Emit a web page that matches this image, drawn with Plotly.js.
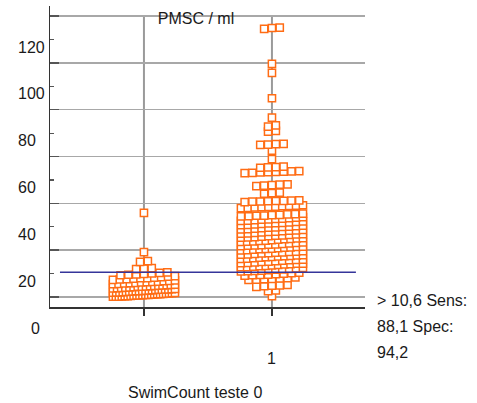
<!DOCTYPE html>
<html>
<head>
<meta charset="utf-8">
<script src="https://cdn.plot.ly/plotly-3.0.1.min.js"></script>
<style>html,body{margin:0;padding:0;background:#fff;}#chart{width:477px;height:403px;}</style>
</head>
<body>
<div id="chart"></div>
<script>
// ---- data ----
const categories = ['0', '1'];
const categoryPos = [0, 1];

const group0 = [
  0.1, 0.2, 0.2, 0.3, 0.4, 0.4, 0.5, 0.6, 0.7, 0.7, 0.8, 0.9, 0.9, 1.0, 1.1, 1.2, 1.2, 1.3, 1.4, 1.5, 1.6, 1.7,
  1.9, 2.0, 2.0, 2.1, 2.2, 2.3, 2.4, 2.5, 2.5, 2.6, 2.7, 2.8, 2.9, 3.0, 3.1, 3.1, 3.2, 3.3, 3.4, 3.5,
  3.7, 3.8, 3.9, 4.0, 4.1, 4.2, 4.4, 4.4, 4.5, 4.6, 4.7, 4.9, 5.0, 5.1, 5.2, 5.3,
  5.5, 5.6, 5.8, 5.9, 6.0, 6.2, 6.3, 6.5, 6.6, 6.8, 6.9, 7.1,
  7.3, 7.5, 7.6, 7.8, 8.0, 8.1, 8.3, 8.5, 8.7, 8.9,
  9.3, 9.5, 9.7, 9.9, 10.1, 10.3, 10.5,
  11.9, 12.1, 12.3,
  15.0, 15.3,
  19.2,
  35.9
];

const group1 = [
  0.4,
  2.5, 2.8,
  4.3, 4.6, 4.8, 5.0, 5.2,
  7.3, 7.4, 7.6, 7.7, 7.9, 8.1, 8.4,
  9.1, 9.3, 9.4, 9.6, 9.8, 10.0, 10.2, 10.4,
  10.9, 11.0, 11.2, 11.3, 11.5, 11.7, 11.8, 12.0, 12.2, 12.4,
  12.7, 12.8, 13.0, 13.2, 13.3, 13.5, 13.7, 13.9, 14.0, 14.2, 14.3,
  14.5, 14.6, 14.8, 15.0, 15.1, 15.3, 15.5, 15.7, 15.8, 16.0,
  16.3, 16.4, 16.6, 16.8, 17.0, 17.1, 17.3, 17.5, 17.6, 17.8, 17.9,
  18.1, 18.2, 18.4, 18.6, 18.7, 18.9, 19.1, 19.3, 19.4, 19.6,
  19.9, 20.0, 20.2, 20.4, 20.6, 20.7, 20.9, 21.1, 21.2, 21.4, 21.5,
  21.7, 21.9, 22.0, 22.2, 22.4, 22.5, 22.7, 22.9, 23.1, 23.3,
  23.5, 23.6, 23.8, 24.0, 24.1, 24.3, 24.5, 24.7, 24.8, 25.0, 25.1,
  25.3, 25.5, 25.6, 25.8, 26.0, 26.2, 26.3, 26.5, 26.7, 26.9,
  27.1, 27.2, 27.4, 27.6, 27.8, 27.9, 28.1, 28.3, 28.5, 28.7,
  28.9, 29.0, 29.2, 29.4, 29.6, 29.7, 29.9, 30.1, 30.3, 30.5,
  30.7, 30.8, 31.0, 31.2, 31.4, 31.5, 31.7, 31.9, 32.1, 32.3,
  32.5, 32.6, 32.8, 33.0, 33.2, 33.4, 33.5, 33.7, 33.9, 34.1,
  34.4, 34.5, 34.7, 34.8, 35.0, 35.1, 35.3, 35.4, 35.6,
  38.0, 38.1, 38.3, 38.4, 38.5, 38.6, 38.8, 38.9, 39.0, 39.2,
  40.5, 40.7, 40.8, 40.9, 41.0, 41.1, 41.2, 41.3,
  44.1, 44.4, 44.6,
  47.4, 47.6, 47.8, 48.0, 48.1,
  52.9, 53.0, 53.2, 53.3, 53.4, 53.5, 53.7, 53.8,
  55.2, 55.4, 55.5, 55.7,
  58.9,
  62.5,
  65.0, 65.1, 65.3, 65.4,
  70.6, 71.0,
  72.8, 73.3,
  76.6,
  84.9,
  95.7,
  99.6,
  114.5, 114.9, 115.1
];

const yTickVals = [0, 20, 40, 60, 80, 100, 120];
const yLabelVals = [20, 40, 60, 80, 100, 120];
const yLabelText = ['20', '40', '60', '80', '100', '120'];
const threshold = 10.6;
const chartTitle = 'PMSC / ml';
const xTitle = 'SwimCount teste 0';
const noteLines = ['> 10,6 Sens:', '88,1 Spec:', '94,2'];

// ---- styling / layout constants ----
const ORANGE = '#ff6c14';
const FONT = 'Liberation Sans, Arial, sans-serif';
const PX_X = 128;              // pixels per category unit
const BIN_H = 1.8;             // value height of one dot row
const DX_MAX = 7.8 / PX_X;     // max horizontal step between dots
const SPAN = 62 / PX_X;        // max row width (centre to centre)
const yRange = [-4.27, 124.3];
const xRange = [-0.734, 1.727];

// dot-plot layout: dots of similar value are set side by side in a row
function dotPlot(values, centre) {
  const sorted = values.slice().sort((a, b) => a - b);
  const rows = new Map();
  sorted.forEach(v => {
    const k = Math.floor(v / BIN_H + 1e-9);
    if (!rows.has(k)) rows.set(k, []);
    rows.get(k).push(v);
  });
  const xs = [], ys = [];
  rows.forEach(arr => {
    const n = arr.length;
    const step = n > 1 ? Math.min(DX_MAX, SPAN / (n - 1)) : 0;
    arr.forEach((v, i) => {
      xs.push(centre + (i - (n - 1) / 2) * step);
      ys.push(v);
    });
  });
  return {xs, ys};
}

const groups = [group0, group1];
const traces = groups.map((g, gi) => {
  const d = dotPlot(g, categoryPos[gi]);
  return {
    type: 'scatter', mode: 'markers', x: d.xs, y: d.ys,
    name: categories[gi], hoverinfo: 'y',
    marker: {symbol: 'square', size: 7.2, color: '#ffffff',
             line: {color: ORANGE, width: 1.5}},
    cliponaxis: false
  };
});

const shapes = categoryPos.map(p => ({
  type: 'line', xref: 'x', yref: 'y', x0: p, x1: p,
  y0: yRange[0], y1: yTickVals[yTickVals.length - 1],
  line: {color: '#9a9a9a', width: 2}, layer: 'below'
}));
shapes.push({
  type: 'line', xref: 'x', yref: 'y',
  x0: categoryPos[0] - 0.656, x1: categoryPos[1] + 0.656,
  y0: threshold, y1: threshold,
  line: {color: '#35359a', width: 1.5}, layer: 'above'
});

const txt = {family: FONT, size: 16, color: '#1a1a1a'};
const annotations = [];
yLabelVals.forEach((v, i) => annotations.push({
  xref: 'paper', yref: 'y', x: -34 / 315, y: v, yshift: -31,
  xanchor: 'left', yanchor: 'middle', text: yLabelText[i],
  showarrow: false, font: txt
}));
// category labels
annotations.push({xref: 'paper', yref: 'y', x: -15 / 315, y: 0, yshift: -31,
  xanchor: 'center', yanchor: 'middle', text: categories[0], showarrow: false, font: txt});
annotations.push({xref: 'x', yref: 'paper', x: categoryPos[1], y: -51 / 301,
  xanchor: 'center', yanchor: 'middle', text: categories[1], showarrow: false, font: txt});
// x title
annotations.push({xref: 'paper', yref: 'paper', x: 145 / 315, y: -85 / 301,
  xanchor: 'center', yanchor: 'middle', text: xTitle, showarrow: false, font: txt});
// notes
const noteY = [7, -19, -46];
noteLines.forEach((t, i) => annotations.push({
  xref: 'paper', yref: 'paper', x: 325 / 315, y: noteY[i] / 301,
  xanchor: 'left', yanchor: 'middle', text: t, showarrow: false, font: txt
}));

const layout = {
  width: 477, height: 403,
  margin: {l: 50, r: 112, t: 6, b: 96, pad: 0},
  paper_bgcolor: '#ffffff', plot_bgcolor: '#ffffff',
  showlegend: false,
  title: {text: chartTitle, font: txt, x: 196 / 477, xanchor: 'center',
          y: 1 - 18 / 403, yanchor: 'middle', xref: 'container', yref: 'container'},
  xaxis: {range: xRange, showgrid: false, zeroline: false, showline: true,
          linecolor: '#333333', linewidth: 1.5, tickmode: 'array', tickvals: categoryPos,
          ticks: 'outside', ticklen: 7, tickcolor: '#333333', tickwidth: 1.5,
          showticklabels: false, fixedrange: true},
  yaxis: {range: yRange, tickmode: 'array', tickvals: yTickVals, showticklabels: false,
          ticks: 'inside', ticklen: 9, tickcolor: '#555555', tickwidth: 1.5,
          showgrid: true, gridcolor: '#a8a8a8', gridwidth: 1.5, zeroline: false,
          showline: true, linecolor: '#333333', linewidth: 1.5,
          minor: {tick0: 10, dtick: 20, ticks: 'inside', ticklen: 4,
                  tickcolor: '#555555', tickwidth: 1.2, showgrid: false},
          fixedrange: true},
  shapes: shapes,
  annotations: annotations
};

Plotly.newPlot('chart', traces, layout, {staticPlot: true, displayModeBar: false});
</script>
</body>
</html>
